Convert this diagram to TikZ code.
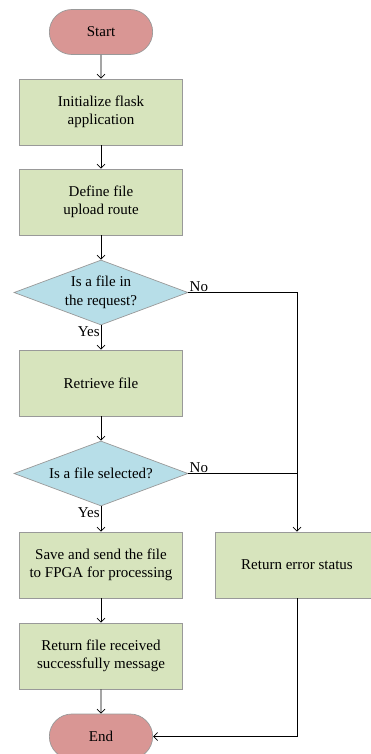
\documentclass[tikz,border=0pt]{standalone}
\usepackage{fontspec}
\setmainfont{Liberation Serif}
\usepackage{tikz}
\usetikzlibrary{arrows.meta,shapes.geometric,shapes.misc}
\definecolor{termred}{HTML}{D99694}
\definecolor{boxgreen}{HTML}{D7E4BD}
\definecolor{decblue}{HTML}{B7DEE8}

\begin{document}
\begin{tikzpicture}[x=1pt, y=-1pt, every node/.style={font=\fontsize{15}{18.5}\selectfont}, >={Straight Barb[length=4pt,width=8pt]},
  line width=0.7pt,
  terminal/.style={draw=gray!80, fill=termred, rounded rectangle, minimum width=110pt, minimum height=45pt},
  process/.style={draw=gray!80, fill=boxgreen, minimum width=163pt, minimum height=66pt, align=center, inner sep=2pt},
  decision/.style={draw=gray!80, fill=decblue, diamond, aspect=2.68, inner sep=0pt, minimum width=174pt, minimum height=65pt, align=center},
  lbl/.style={font=\fontsize{15}{16}\selectfont, inner sep=1pt}]
\useasboundingbox (0,0) rectangle (370,754);
\node[terminal] (start) at (101,32) {Start};
\node[process] (init) at (101,112) {Initialize flask\\application};
\node[process] (route) at (101,202) {Define file\\upload route};
\node[decision] (hasfile) at (101,292.5) {Is a file in\\the request?};
\node[process] (fetch) at (101,383) {Retrieve file};
\node[decision] (picked) at (101,473.5) {Is a file selected?};
\node[process] (save) at (101,565) {Save and send the file\\to FPGA for processing};
\node[process] (err) at (297,565) {Return error status};
\node[process] (ok) at (101,656) {Return file received\\successfully message};
\node[terminal] (stop) at (101,736.5) {End};
\coordinate (j1) at (297,292.5);
\coordinate (j2) at (297,473.5);
\coordinate (j3) at (297,736.5);
\draw[->] (start) -- (init);
\draw[->] (init) -- (route);
\draw[->] (route) -- (hasfile);
\draw[->] (hasfile) -- (fetch);
\draw[->] (fetch) -- (picked);
\draw[->] (picked) -- (save);
\draw[->] (save) -- (ok);
\draw[->] (ok) -- (stop);
\draw[->] (hasfile.east) -- (j1) -- (err.north);
\draw (picked.east) -- (j2);
\draw[->] (err.south) -- (j3) -- (stop.east);
\node[lbl, anchor=south west] (no1) at (hasfile.east) {No};
\node[lbl, anchor=south west] (no2) at (picked.east) {No};
\node[lbl, anchor=north east] (yes1) at (hasfile.south) {Yes};
\node[lbl, anchor=north east] (yes2) at (picked.south) {Yes};
\end{tikzpicture}
\end{document}
